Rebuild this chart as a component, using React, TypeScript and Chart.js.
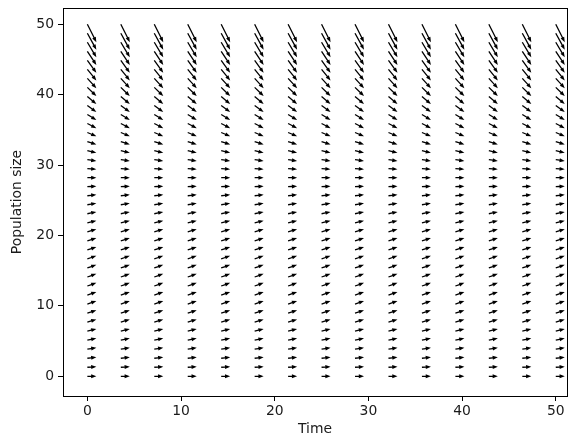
import React, { useEffect, useRef } from "react";
import { Chart, registerables } from "chart.js";

Chart.register(...registerables);

// Grid of time values (columns)
const TIMES = [0, 3.571, 7.143, 10.714, 14.286, 17.857, 21.429, 25, 28.571, 32.143, 35.714, 39.286, 42.857, 46.429, 50];
// Grid of population sizes (rows)
const POPS = [0, 1.28, 2.56, 3.85, 5.13, 6.41, 7.69, 8.97, 10.26, 11.54, 12.82, 14.1, 15.38, 16.67, 17.95, 19.23, 20.51, 21.79, 23.08, 24.36, 25.64, 26.92, 28.21, 29.49, 30.77, 32.05, 33.33, 34.62, 35.9, 37.18, 38.46, 39.74, 41.03, 42.31, 43.59, 44.87, 46.15, 47.44, 48.72, 50];
// Vertical component of each arrow per row (horizontal component is 1)
const GROWTH = [0, 0.062, 0.119, 0.169, 0.214, 0.252, 0.285, 0.311, 0.332, 0.346, 0.354, 0.357, 0.354, 0.344, 0.329, 0.307, 0.28, 0.246, 0.207, 0.162, 0.11, 0.053, -0.011, -0.08, -0.155, -0.237, -0.324, -0.417, -0.516, -0.622, -0.733, -0.85, -0.973, -1.103, -1.238, -1.379, -1.526, -1.679, -1.838, -2.004];
const X_TICKS = [0, 10, 20, 30, 40, 50];
const Y_TICKS = [0, 10, 20, 30, 40, 50];

const FONT = "'DejaVu Sans', sans-serif";
const TEXT = "#1a1a1a";

const quiverPlugin = {
  id: "quiver",
  afterDatasetsDraw(chart: any) {
    const ctx = chart.ctx;
    const meta = chart.getDatasetMeta(0);
    const ds = chart.data.datasets[0];
    const unit = 9; // px per unit of vector
    const shaftW = 1.3;
    const headLen = 5.2;
    const headW = 3.9;
    ctx.save();
    ctx.fillStyle = "#000";
    meta.data.forEach((el: any, i: number) => {
      const d = ds.data[i];
      const x0 = el.x;
      const y0 = el.y;
      const dx = unit * d.u;
      const dy = -unit * d.v;
      const L = Math.hypot(dx, dy);
      if (L < 0.5) return;
      const ux = dx / L, uy = dy / L;
      const nx = -uy, ny = ux;
      const hl = Math.min(headLen, L * 0.6);
      const bx = x0 + ux * (L - hl);
      const by = y0 + uy * (L - hl);
      const tx = x0 + dx, ty = y0 + dy;
      ctx.beginPath();
      ctx.moveTo(x0 + nx * shaftW / 2, y0 + ny * shaftW / 2);
      ctx.lineTo(bx + nx * shaftW / 2, by + ny * shaftW / 2);
      ctx.lineTo(bx + nx * headW / 2, by + ny * headW / 2);
      ctx.lineTo(tx, ty);
      ctx.lineTo(bx - nx * headW / 2, by - ny * headW / 2);
      ctx.lineTo(bx - nx * shaftW / 2, by - ny * shaftW / 2);
      ctx.lineTo(x0 - nx * shaftW / 2, y0 - ny * shaftW / 2);
      ctx.closePath();
      ctx.fill();
    });
    // full axes box
    const a = chart.chartArea;
    ctx.strokeStyle = "#000";
    ctx.lineWidth = 1;
    ctx.strokeRect(Math.round(a.left) + 0.5, Math.round(a.top) + 0.5, Math.round(a.right - a.left), Math.round(a.bottom - a.top));
    ctx.restore();
  },
};

export default function App() {
  const ref = useRef<HTMLCanvasElement | null>(null);
  useEffect(() => {
    document.body.style.margin = "0";
    const points: any[] = [];
    POPS.forEach((p, r) => {
      TIMES.forEach((t) => {
        points.push({ x: t, y: p, u: 1, v: GROWTH[r] });
      });
    });
    const chart = new Chart(ref.current as HTMLCanvasElement, {
      type: "scatter",
      data: {
        datasets: [
          {
            data: points,
            pointRadius: 0,
            pointHoverRadius: 0,
            showLine: false,
          },
        ],
      },
      options: {
        responsive: false,
        animation: false,
        events: [],
        layout: { padding: { top: 8, right: 3, left: 0, bottom: 0 } },
        plugins: { legend: { display: false }, tooltip: { enabled: false } },
        scales: {
          x: {
            type: "linear",
            min: -2.6,
            max: 51.2,
            afterBuildTicks: (s: any) => {
              s.ticks = X_TICKS.map((v) => ({ value: v }));
            },
            afterFit: (s: any) => {
              s.height = 43;
              s.paddingLeft = 0;
              s.paddingRight = 0;
            },
            grid: { display: true, drawOnChartArea: false, drawTicks: true, tickLength: 5, color: "#000", tickColor: "#000" },
            border: { display: true, color: "#000" },
            ticks: { color: TEXT, font: { family: FONT, size: 13.9 }, padding: 2, maxRotation: 0 },
            title: { display: true, text: "Time", color: TEXT, font: { family: FONT, size: 13.9 }, padding: { top: 2, bottom: 1 } },
          },
          y: {
            type: "linear",
            min: -2.8,
            max: 52.3,
            afterBuildTicks: (s: any) => {
              s.ticks = Y_TICKS.map((v) => ({ value: v }));
            },
            afterFit: (s: any) => {
              s.width = 63;
              s.paddingTop = 0;
              s.paddingBottom = 0;
            },
            grid: { display: true, drawOnChartArea: false, drawTicks: true, tickLength: 5, color: "#000", tickColor: "#000" },
            border: { display: true, color: "#000" },
            ticks: { color: TEXT, font: { family: FONT, size: 13.9 }, padding: 4 },
            title: { display: true, text: "Population size", color: TEXT, font: { family: FONT, size: 13.9 }, padding: { top: 9, bottom: 2 } },
          },
        },
      },
      plugins: [quiverPlugin],
    } as any);
    return () => chart.destroy();
  }, []);
  return (
    <div style={{ position: "fixed", left: 0, top: 0, width: 570, height: 439 }}>
      <canvas ref={ref} width={570} height={439} />
    </div>
  );
}
